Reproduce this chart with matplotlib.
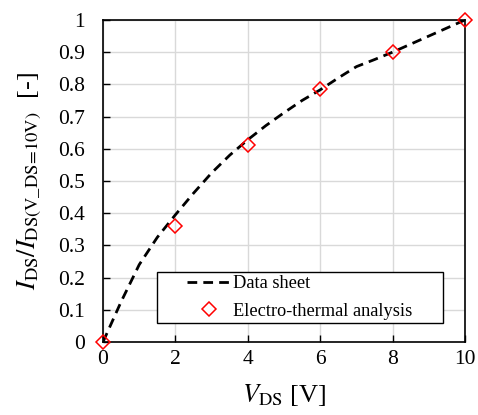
import matplotlib
matplotlib.use("Agg")
import matplotlib.pyplot as plt
from matplotlib.ticker import FuncFormatter
from matplotlib.patches import Rectangle

plt.rcParams['font.family'] = ['Liberation Serif', 'DejaVu Serif']
plt.rcParams['mathtext.fontset'] = 'stix'

# Data sheet curve
vds_sheet = [0, 0.5, 1, 1.5, 2, 2.5, 3, 3.5, 4, 4.5, 5, 5.5, 6, 6.5, 7, 7.5, 8, 8.5, 9, 9.5, 10]
ids_sheet = [0, 0.125, 0.24, 0.325, 0.395, 0.462, 0.525, 0.58, 0.628, 0.672, 0.712, 0.75,
             0.783, 0.82, 0.855, 0.877, 0.9, 0.925, 0.95, 0.975, 1.0]

# Electro-thermal analysis
vds_eta = [0, 2, 4, 6, 8, 10]
ids_eta = [0, 0.36, 0.613, 0.786, 0.90, 1.0]

x_ticks = [0, 2, 4, 6, 8, 10]
y_ticks = [0, 0.1, 0.2, 0.3, 0.4, 0.5, 0.6, 0.7, 0.8, 0.9, 1.0]

fig = plt.figure(figsize=(4.78, 4.15), dpi=100)
ax = fig.add_axes([0.2155, 0.176, 0.7575, 0.776])

ax.plot(vds_sheet, ids_sheet, linestyle=(0, (3.5, 2.2)), color='black', linewidth=2.0,
        label='Data sheet', zorder=3)
ax.plot(vds_eta, ids_eta, linestyle='none', marker='D', markersize=7,
        markerfacecolor='none', markeredgecolor='#ff0000', markeredgewidth=1.1,
        label='Electro-thermal analysis', zorder=4, clip_on=False)

ax.set_xlim(0, 10)
ax.set_ylim(0, 1)
ax.set_xticks(x_ticks)
ax.set_yticks(y_ticks)
ax.yaxis.set_major_formatter(FuncFormatter(lambda v, p: ('%g' % round(v, 1))))
ax.grid(True, color='#d9d9d9', linewidth=1.0)
ax.set_axisbelow(True)
for s in ax.spines.values():
    s.set_linewidth(1.2)
    s.set_color('black')
ax.tick_params(direction='in', length=5, width=1.0, labelsize=15.5)
ax.tick_params(axis='x', pad=6)
ax.tick_params(axis='y', pad=13)

ax.set_xlabel(r'$V_{\rm DS}$ [V]', fontsize=19, labelpad=9)
ax.set_ylabel(r'$I_{\rm DS}/I_{\rm DS(V\_DS\!=\!10V)}$  [-]', fontsize=19, labelpad=10)

# legend frame
ax.add_patch(Rectangle((0.149, 0.059), 0.79, 0.158, transform=ax.transAxes,
                       facecolor='white', edgecolor='black', linewidth=1.0, zorder=5))
leg = ax.legend(loc='center', bbox_to_anchor=(0.544, 0.138), fontsize=13.2,
                frameon=False, handlelength=2.3, borderpad=0.0, labelspacing=0.55,
                handletextpad=0.2)
leg.set_zorder(6)

fig.savefig('out.png', dpi=100)
